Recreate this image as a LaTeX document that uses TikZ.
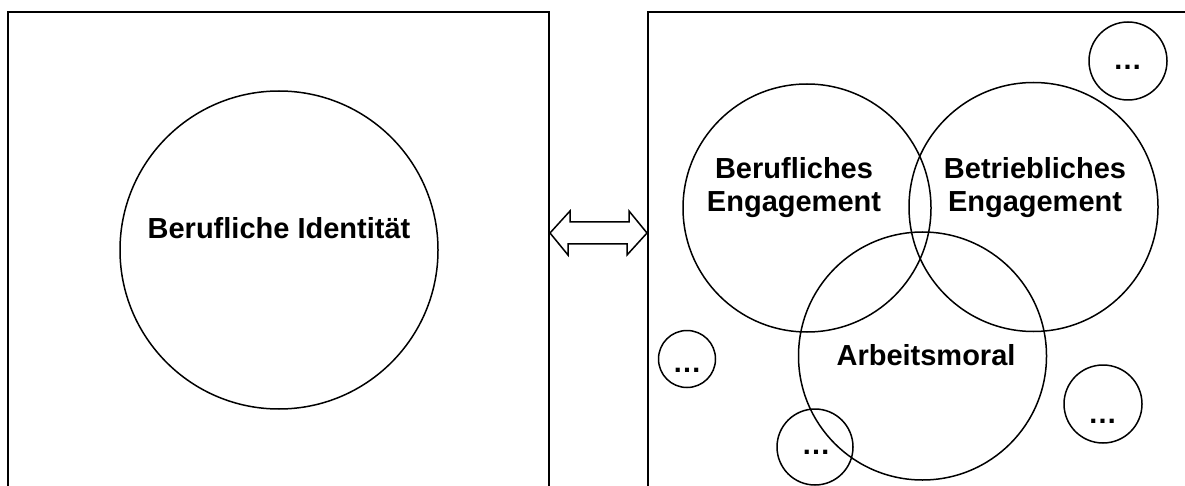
\documentclass[tikz,border=0pt]{standalone}
\usepackage{fontspec}
\setmainfont{Liberation Sans}
\begin{document}
\begin{tikzpicture}[x=1pt,y=-1pt]
  \useasboundingbox (0,0) rectangle (1185,486);

  \begin{scope}[every node/.style={draw, line width=2pt, inner sep=0}]
    \node (l) at (278.5,262) [minimum width=541pt, minimum height=500pt] {};
    \node (r) at (928,262)   [minimum width=560pt, minimum height=500pt] {};
  \end{scope}

  \begin{scope}[every node/.style={circle, draw, line width=1.5pt, inner sep=0}]
    \node (1) at (279,250)    [minimum size=318pt] {};
    \node (2) at (807,208)    [minimum size=248pt] {};
    \node (3) at (1033.5,207) [minimum size=249pt] {};
    \node (4) at (922.5,356)  [minimum size=248pt] {};
    \node (5) at (1128,61)    [minimum size=78pt] {};
    \node (6) at (687,359)    [minimum size=57pt] {};
    \node (7) at (815,447)    [minimum size=76pt] {};
    \node (8) at (1103,404)   [minimum size=78pt] {};
  \end{scope}

  \begin{scope}[every node/.style={font=\fontsize{29}{33}\selectfont\bfseries, align=center, inner sep=0}]
    \node (t1) at (279,228)  {Berufliche Identität};
    \node (t2) at (794,188)  {Berufliches\\Engagement};
    \node (t3) at (1035,188) {Betriebliches\\Engagement};
    \node (t4) at (926,355)  {Arbeitsmoral};
    \node (t5) at (1127.5,67) {…};
    \node (t6) at (687,370)  {…};
    \node (t7) at (816,452)  {…};
    \node (t8) at (1102.5,421) {…};
  \end{scope}

  % double arrow between the boxes
  \path (l.east |- 0,233) coordinate (al) (r.west |- 0,233) coordinate (ar);
  \draw[line width=1.5pt, line join=miter] (al) -- ++(20,-22) -- ++(0,11) -- ++(59,0) -- ++(0,-11)
    -- (ar) -- ++(-20,22) -- ++(0,-11) -- ++(-59,0) -- ++(0,11) -- cycle;

\end{tikzpicture}
\end{document}
